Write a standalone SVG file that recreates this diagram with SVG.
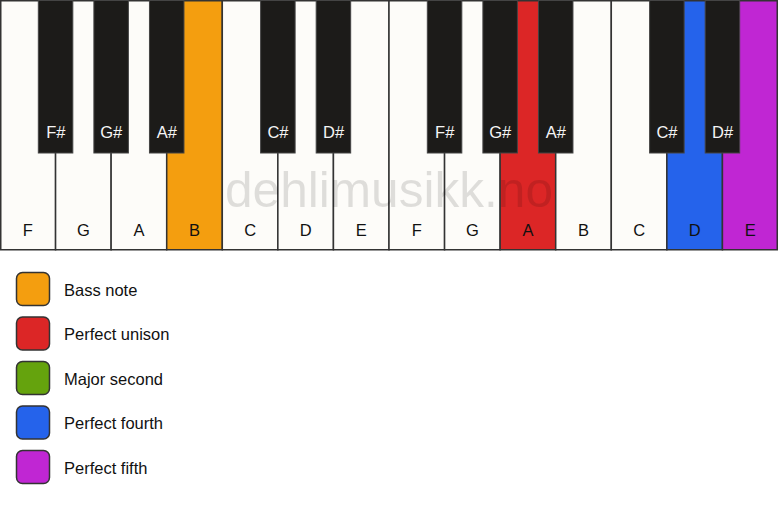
<svg xmlns="http://www.w3.org/2000/svg" width="778" height="506" viewBox="0 0 778 506">
<style>
.w{fill:#fdfcf9;stroke:#333;stroke-width:1.5}
.b{fill:#1c1b19;stroke:#444;stroke-width:1}
.o{fill:#f49e0f}
.r{fill:#dc2626}
.g{fill:#65a30d}
.bl{fill:#2563eb}
.p{fill:#c026d3}
.wl{font-family:"Liberation Sans",Arial,sans-serif;font-size:16.5px;fill:#111;text-anchor:middle}
.bk{font-family:"Liberation Sans",Arial,sans-serif;font-size:16.5px;fill:#f5f5f5;text-anchor:middle}
.lt{font-family:"Liberation Sans",Arial,sans-serif;font-size:16.5px;fill:#111}
.sw{stroke:#333;stroke-width:1.5}
.wm{font-family:"Liberation Sans",Arial,sans-serif;font-size:49.6px;fill:#000;fill-opacity:0.12;text-anchor:middle}
</style>
<rect width="778" height="506" fill="#ffffff"/>
<g id="white-keys">
<g id="key-F1"><rect class="w" x="0.75" y="0.75" width="54.82" height="249"/></g>
<g id="key-G1"><rect class="w" x="55.57" y="0.75" width="55.57" height="249"/></g>
<g id="key-A1"><rect class="w" x="111.14" y="0.75" width="55.57" height="249"/></g>
<g id="key-B1"><rect class="w o" x="166.71" y="0.75" width="55.57" height="249"/></g>
<g id="key-C1"><rect class="w" x="222.29" y="0.75" width="55.57" height="249"/></g>
<g id="key-D1"><rect class="w" x="277.86" y="0.75" width="55.57" height="249"/></g>
<g id="key-E1"><rect class="w" x="333.43" y="0.75" width="55.57" height="249"/></g>
<g id="key-F2"><rect class="w" x="389" y="0.75" width="55.57" height="249"/></g>
<g id="key-G2"><rect class="w" x="444.57" y="0.75" width="55.57" height="249"/></g>
<g id="key-A2"><rect class="w r" x="500.14" y="0.75" width="55.57" height="249"/></g>
<g id="key-B2"><rect class="w" x="555.71" y="0.75" width="55.57" height="249"/></g>
<g id="key-C2"><rect class="w" x="611.29" y="0.75" width="55.57" height="249"/></g>
<g id="key-D2"><rect class="w bl" x="666.86" y="0.75" width="55.57" height="249"/></g>
<g id="key-E2"><rect class="w p" x="722.43" y="0.75" width="54.82" height="249"/></g>
</g>
<text class="wm" x="389" y="207">dehlimusikk.no</text>
<g id="white-labels">
<text class="wl" x="27.8" y="236">F</text>
<text class="wl" x="83.4" y="236">G</text>
<text class="wl" x="138.9" y="236">A</text>
<text class="wl" x="194.5" y="236">B</text>
<text class="wl" x="250.1" y="236">C</text>
<text class="wl" x="305.6" y="236">D</text>
<text class="wl" x="361.2" y="236">E</text>
<text class="wl" x="416.8" y="236">F</text>
<text class="wl" x="472.4" y="236">G</text>
<text class="wl" x="527.9" y="236">A</text>
<text class="wl" x="583.5" y="236">B</text>
<text class="wl" x="639.1" y="236">C</text>
<text class="wl" x="694.6" y="236">D</text>
<text class="wl" x="750.2" y="236">E</text>
</g>
<g id="black-keys">
<g id="key-Fs1"><rect class="b" x="38.32" y="0.5" width="34.5" height="152.5"/><text class="bk" x="55.8" y="138">F#</text></g>
<g id="key-Gs1"><rect class="b" x="93.89" y="0.5" width="34.5" height="152.5"/><text class="bk" x="111.3" y="138">G#</text></g>
<g id="key-As1"><rect class="b" x="149.46" y="0.5" width="34.5" height="152.5"/><text class="bk" x="166.9" y="138">A#</text></g>
<g id="key-Cs1"><rect class="b" x="260.61" y="0.5" width="34.5" height="152.5"/><text class="bk" x="278" y="138">C#</text></g>
<g id="key-Ds1"><rect class="b" x="316.18" y="0.5" width="34.5" height="152.5"/><text class="bk" x="333.6" y="138">D#</text></g>
<g id="key-Fs2"><rect class="b" x="427.32" y="0.5" width="34.5" height="152.5"/><text class="bk" x="444.7" y="138">F#</text></g>
<g id="key-Gs2"><rect class="b" x="482.89" y="0.5" width="34.5" height="152.5"/><text class="bk" x="500.3" y="138">G#</text></g>
<g id="key-As2"><rect class="b" x="538.46" y="0.5" width="34.5" height="152.5"/><text class="bk" x="555.9" y="138">A#</text></g>
<g id="key-Cs2"><rect class="b" x="649.61" y="0.5" width="34.5" height="152.5"/><text class="bk" x="667" y="138">C#</text></g>
<g id="key-Ds2"><rect class="b" x="705.18" y="0.5" width="34.5" height="152.5"/><text class="bk" x="722.6" y="138">D#</text></g>
</g>
<g id="legend">
<g id="legend-bass"><rect class="o sw" x="16.5" y="272.5" width="33" height="33" rx="6"/><text class="lt" x="64" y="295.5">Bass note</text></g>
<g id="legend-unison"><rect class="r sw" x="16.5" y="317" width="33" height="33" rx="6"/><text class="lt" x="64" y="340">Perfect unison</text></g>
<g id="legend-second"><rect class="g sw" x="16.5" y="361.5" width="33" height="33" rx="6"/><text class="lt" x="64" y="384.5">Major second</text></g>
<g id="legend-fourth"><rect class="bl sw" x="16.5" y="406" width="33" height="33" rx="6"/><text class="lt" x="64" y="429">Perfect fourth</text></g>
<g id="legend-fifth"><rect class="p sw" x="16.5" y="450.5" width="33" height="33" rx="6"/><text class="lt" x="64" y="473.5">Perfect fifth</text></g>
</g>
</svg>
